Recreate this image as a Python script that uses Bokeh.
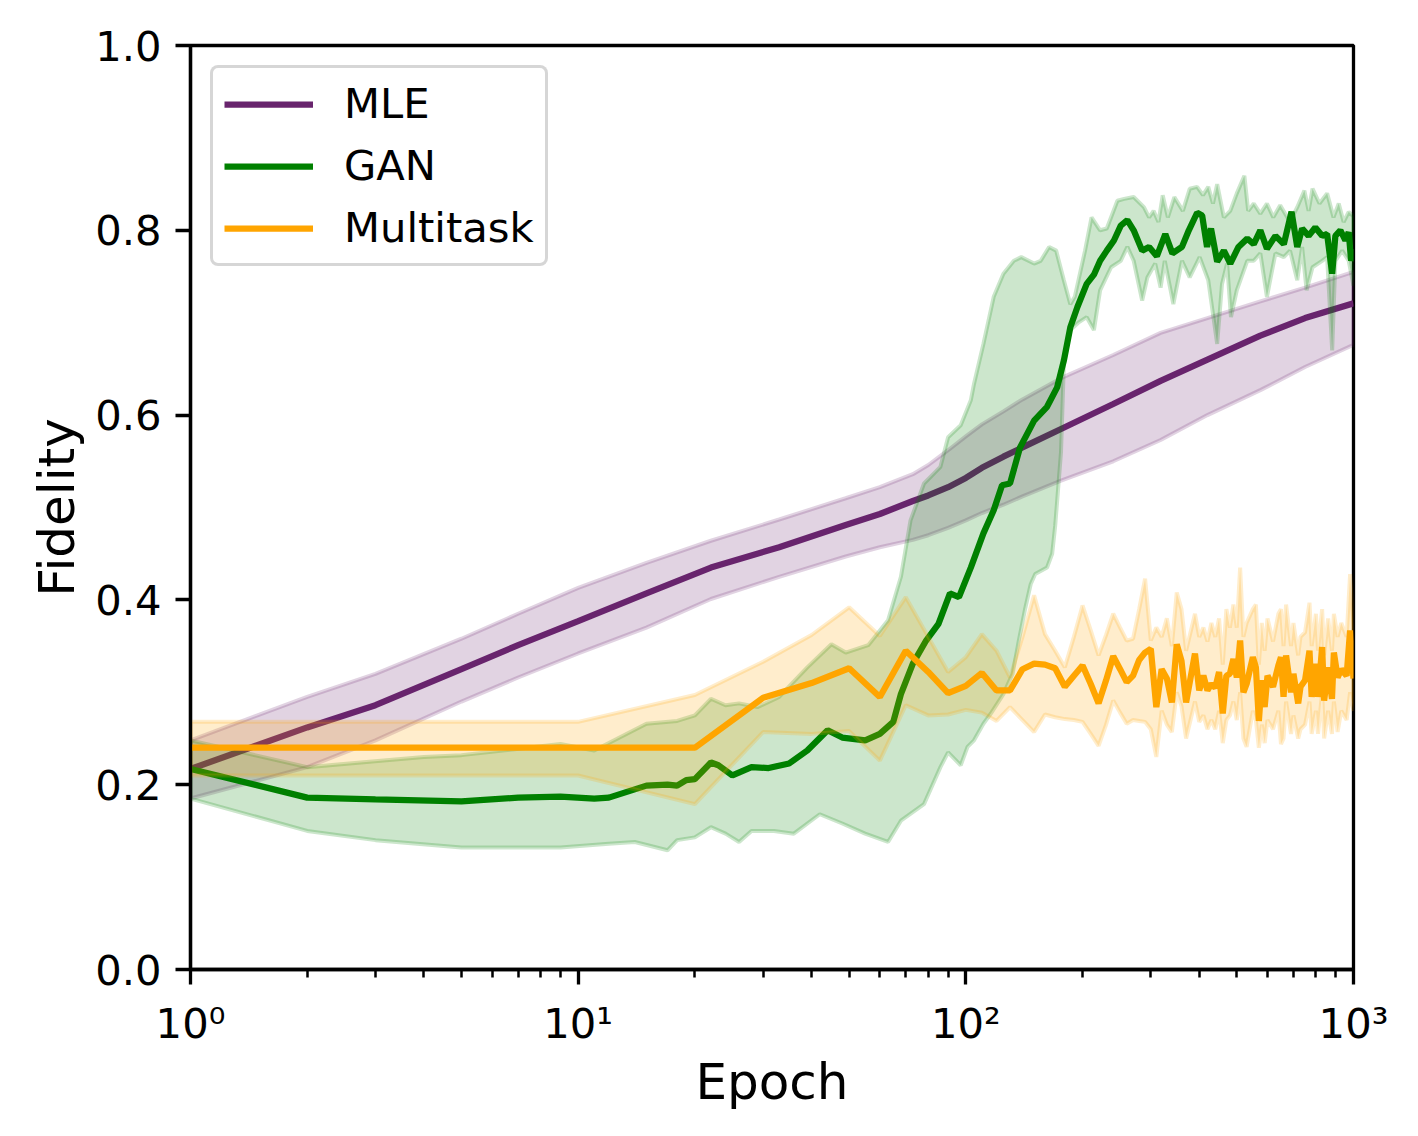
from bokeh.plotting import figure
from bokeh.models import Range1d, FixedTicker, NumeralTickFormatter, Legend, LegendItem
from bokeh.embed import file_html
from bokeh.resources import INLINE

# ---------------- data ----------------
mle_ep = [1, 2, 3, 5, 7, 10, 15, 22, 33, 49, 60, 73, 80, 90, 100, 110, 125, 140, 176, 240, 318, 420,
          575, 750, 1000]
mle = [0.217, 0.262, 0.286, 0.325, 0.351, 0.377, 0.407, 0.435, 0.457, 0.481, 0.493, 0.507, 0.513,
       0.522, 0.532, 0.543, 0.555, 0.565, 0.585, 0.612, 0.637, 0.660, 0.686, 0.705, 0.721]
mle_hi = [0.248, 0.295, 0.320, 0.358, 0.385, 0.413, 0.440, 0.464, 0.487, 0.510, 0.522, 0.536, 0.546,
          0.562, 0.577, 0.590, 0.604, 0.617, 0.640, 0.665, 0.689, 0.705, 0.723, 0.738, 0.755]
mle_lo = [0.185, 0.219, 0.248, 0.290, 0.316, 0.342, 0.370, 0.401, 0.425, 0.447, 0.457, 0.465, 0.470,
          0.478, 0.486, 0.494, 0.503, 0.512, 0.529, 0.550, 0.573, 0.600, 0.627, 0.652, 0.676]

gan_ep = [1, 2, 3, 5, 7, 9, 11, 12, 15, 17, 18, 19, 20, 22, 23, 25, 28, 31, 35, 39, 44, 48, 55, 60, 65,
          68, 73, 79, 85, 91, 96, 103, 111, 118, 124, 130, 138, 150, 162, 172, 179, 186, 194, 205, 214,
          222, 231, 241, 251, 261, 271, 285, 297, 311, 327, 341, 361, 376, 395, 407, 419, 429, 445, 463,
          481, 505, 532, 553, 575, 598, 629, 661, 692, 716, 737, 766, 797, 830, 855, 881, 898, 925, 953,
          972, 986, 1000]
gan = [0.217, 0.186, 0.184, 0.182, 0.186, 0.187, 0.185, 0.186, 0.199, 0.200,
       0.199, 0.205, 0.206, 0.224, 0.221, 0.210, 0.219, 0.218, 0.223, 0.237,
       0.259, 0.251, 0.248, 0.255, 0.268, 0.298, 0.331, 0.356, 0.374, 0.407,
       0.403, 0.435, 0.472, 0.497, 0.524, 0.526, 0.565, 0.594, 0.609, 0.630,
       0.659, 0.695, 0.717, 0.742, 0.752, 0.767, 0.778, 0.789, 0.805, 0.811,
       0.800, 0.778, 0.782, 0.772, 0.796, 0.775, 0.782, 0.800, 0.819, 0.816,
       0.782, 0.802, 0.766, 0.778, 0.764, 0.782, 0.791, 0.785, 0.800, 0.780,
       0.794, 0.785, 0.820, 0.782, 0.802, 0.794, 0.803, 0.794, 0.796, 0.753,
       0.794, 0.800, 0.789, 0.798, 0.767, 0.780]

gan_hi_ep = [1, 2, 4, 5, 9, 11, 15, 18, 20, 22, 24, 26, 29, 33, 39, 45, 49, 56, 63, 68, 72, 78, 86, 90,
             97, 103, 105, 111, 118, 125, 133, 139, 150, 156, 164, 171, 179, 186, 191, 203, 211, 222,
             231, 246, 256, 271, 288, 297, 305, 314, 322, 332, 345, 363, 378, 395, 409, 422, 434, 445,
             463, 481, 500, 523, 535, 553, 575, 598, 621, 647, 686, 716, 747, 766, 784, 817, 855, 888,
             916, 943, 972, 1000]
gan_hi = [0.248, 0.219, 0.230, 0.232, 0.244, 0.237, 0.266, 0.269, 0.275, 0.293,
          0.286, 0.288, 0.284, 0.295, 0.327, 0.352, 0.343, 0.351, 0.378, 0.425,
          0.486, 0.526, 0.544, 0.576, 0.589, 0.616, 0.634, 0.677, 0.728, 0.753,
          0.767, 0.771, 0.764, 0.767, 0.782, 0.778, 0.746, 0.720, 0.728, 0.778,
          0.814, 0.800, 0.802, 0.832, 0.834, 0.836, 0.825, 0.814, 0.821, 0.809,
          0.838, 0.814, 0.836, 0.821, 0.845, 0.847, 0.838, 0.847, 0.829, 0.850,
          0.814, 0.821, 0.840, 0.859, 0.821, 0.829, 0.818, 0.829, 0.814, 0.827,
          0.809, 0.825, 0.843, 0.821, 0.845, 0.829, 0.840, 0.814, 0.829, 0.809,
          0.820, 0.815]

gan_lo_ep = [1, 2, 3, 5, 9, 12, 14, 17, 18, 20, 22, 24, 26, 28, 32, 36, 42, 48, 55, 63, 68, 78, 86, 90,
             97, 101, 105, 111, 116, 125, 132, 137, 142, 147, 151, 162, 167, 170, 173, 176, 179, 186,
             195, 205, 214, 222, 237, 251, 261, 271, 285, 294, 308, 318, 326, 343, 361, 378, 401, 422,
             445, 458, 472, 483, 500, 532, 553, 575, 598, 629, 661, 686, 716, 737, 757, 784, 830, 855,
             881, 898, 935, 972, 1000]
gan_lo = [0.185, 0.150, 0.140, 0.132, 0.132, 0.136, 0.138, 0.129, 0.140, 0.143,
          0.154, 0.147, 0.138, 0.150, 0.150, 0.147, 0.168, 0.158, 0.147, 0.138,
          0.161, 0.179, 0.219, 0.235, 0.221, 0.241, 0.248, 0.266, 0.277, 0.298,
          0.320, 0.356, 0.389, 0.417, 0.428, 0.435, 0.450, 0.480, 0.520, 0.560,
          0.655, 0.692, 0.700, 0.706, 0.692, 0.735, 0.760, 0.767, 0.782, 0.767,
          0.724, 0.749, 0.764, 0.738, 0.767, 0.720, 0.767, 0.749, 0.771, 0.746,
          0.677, 0.742, 0.764, 0.706, 0.735, 0.767, 0.767, 0.775, 0.728, 0.775,
          0.771, 0.778, 0.746, 0.782, 0.735, 0.760, 0.767, 0.771, 0.670, 0.767,
          0.778, 0.767, 0.740]

mt_ep = [1, 10, 20, 30, 40, 50, 60, 70, 80, 90, 100, 110, 120, 130, 140, 150, 160, 170, 180, 190, 200,
         210, 220, 230, 240, 250, 260, 270, 280, 290, 300, 310, 320, 330, 340, 350, 360, 370, 390, 400,
         410, 420, 430, 440, 450, 460, 470, 480, 490, 500, 510, 520, 530, 550, 560, 570, 580, 590, 600,
         620, 640, 650, 660, 670, 690, 700, 720, 730, 750, 770, 780, 800, 810, 830, 840, 860, 880, 890,
         910, 930, 960, 980, 1000]
mt = [0.240, 0.240, 0.240, 0.294, 0.310, 0.326, 0.295, 0.345, 0.322, 0.299,
      0.307, 0.321, 0.302, 0.302, 0.325, 0.331, 0.330, 0.326, 0.306, 0.318,
      0.329, 0.309, 0.288, 0.313, 0.339, 0.325, 0.311, 0.318, 0.335, 0.343,
      0.347, 0.284, 0.325, 0.315, 0.289, 0.352, 0.334, 0.289, 0.342, 0.302,
      0.318, 0.302, 0.309, 0.305, 0.322, 0.277, 0.318, 0.320, 0.336, 0.316,
      0.356, 0.300, 0.309, 0.338, 0.327, 0.269, 0.313, 0.284, 0.318, 0.306,
      0.329, 0.338, 0.295, 0.340, 0.300, 0.320, 0.288, 0.306, 0.313, 0.345,
      0.295, 0.331, 0.295, 0.349, 0.291, 0.327, 0.293, 0.343, 0.316, 0.325,
      0.318, 0.367, 0.315]
mt_hi = [0.268, 0.268, 0.297, 0.333, 0.362, 0.392, 0.361, 0.403, 0.360, 0.322,
         0.338, 0.363, 0.345, 0.316, 0.360, 0.405, 0.363, 0.345, 0.327, 0.360,
         0.394, 0.367, 0.340, 0.362, 0.385, 0.370, 0.356, 0.358, 0.390, 0.423,
         0.356, 0.370, 0.360, 0.380, 0.350, 0.408, 0.390, 0.345, 0.385, 0.360,
         0.370, 0.355, 0.375, 0.360, 0.380, 0.330, 0.390, 0.370, 0.395, 0.370,
         0.435, 0.360, 0.375, 0.390, 0.395, 0.330, 0.375, 0.345, 0.380, 0.355,
         0.385, 0.390, 0.350, 0.395, 0.350, 0.375, 0.340, 0.360, 0.365, 0.397,
         0.350, 0.385, 0.345, 0.390, 0.340, 0.380, 0.345, 0.385, 0.360, 0.375,
         0.360, 0.428, 0.370]
mt_lo = [0.210, 0.210, 0.179, 0.257, 0.255, 0.258, 0.226, 0.286, 0.275, 0.276,
         0.281, 0.278, 0.269, 0.284, 0.270, 0.257, 0.276, 0.273, 0.271, 0.270,
         0.268, 0.255, 0.242, 0.265, 0.291, 0.278, 0.266, 0.270, 0.269, 0.268,
         0.260, 0.230, 0.280, 0.265, 0.257, 0.300, 0.285, 0.250, 0.290, 0.268,
         0.275, 0.260, 0.270, 0.260, 0.280, 0.245, 0.270, 0.275, 0.290, 0.270,
         0.300, 0.250, 0.241, 0.280, 0.270, 0.240, 0.265, 0.245, 0.270, 0.260,
         0.280, 0.244, 0.250, 0.290, 0.255, 0.275, 0.250, 0.260, 0.265, 0.290,
         0.255, 0.280, 0.255, 0.300, 0.250, 0.280, 0.255, 0.290, 0.257, 0.280,
         0.270, 0.300, 0.280]

x_major = [1, 10, 100, 1000]
x_major_labels = ["10\u2070", "10\u00b9", "10\u00b2", "10\u00b3"]
x_minor = [2, 3, 4, 5, 6, 7, 8, 9, 20, 30, 40, 50, 60, 70, 80, 90, 200, 300, 400, 500, 600, 700, 800, 900]
y_major = [0.0, 0.2, 0.4, 0.6, 0.8, 1.0]

C_MLE = "#68246D"
C_GAN = "#008000"
C_MT = "#FFA500"
FONT = "DejaVu Sans"

# ---------------- figure ----------------
p = figure(x_axis_type="log", x_range=Range1d(1, 1000), y_range=Range1d(0, 1),
           frame_width=1163, frame_height=924,
           min_border_left=190, min_border_right=50, min_border_top=45, min_border_bottom=150,
           output_backend="svg", toolbar_location=None, background_fill_color="white",
           border_fill_color="white")
p.xgrid.visible = False
p.ygrid.visible = False
p.outline_line_color = "black"
p.outline_line_width = 3.3


def band(xs_hi, ys_hi, xs_lo, ys_lo, color):
    xs = list(xs_hi) + list(reversed(xs_lo))
    ys = list(ys_hi) + list(reversed(ys_lo))
    p.patch(xs, ys, fill_color=color, fill_alpha=0.2, line_color=color, line_alpha=0.2, line_width=4)


band(mle_ep, mle_hi, mle_ep, mle_lo, C_MLE)
r_mle = p.line(mle_ep, mle, line_color=C_MLE, line_width=6.25)
band(gan_hi_ep, gan_hi, gan_lo_ep, gan_lo, C_GAN)
r_gan = p.line(gan_ep, gan, line_color=C_GAN, line_width=6.25)
band(mt_ep, mt_hi, mt_ep, mt_lo, C_MT)
r_mt = p.line(mt_ep, mt, line_color=C_MT, line_width=6.25)

# ---------------- axes ----------------
xa = p.xaxis[0]
xa.ticker = FixedTicker(ticks=x_major, minor_ticks=x_minor)
xa.major_label_overrides = {t: lab for t, lab in zip(x_major, x_major_labels)}
ya = p.yaxis[0]
ya.ticker = FixedTicker(ticks=y_major, minor_ticks=[])
ya.formatter = NumeralTickFormatter(format="0.0")

for ax in (xa, ya):
    ax.axis_line_width = 3.3
    ax.axis_line_color = "black"
    ax.major_tick_line_width = 3.3
    ax.major_tick_in = 0
    ax.major_tick_out = 15
    ax.minor_tick_line_width = 2.5
    ax.minor_tick_in = 0
    ax.minor_tick_out = 8
    ax.major_label_text_font = FONT
    ax.major_label_text_font_size = "41.7px"
    ax.major_label_text_color = "black"
    ax.major_label_standoff = 14
    ax.axis_label_text_font = FONT
    ax.axis_label_text_font_size = "50px"
    ax.axis_label_text_font_style = "normal"
    ax.axis_label_text_color = "black"

xa.axis_label = "Epoch"
xa.axis_label_standoff = 2
ya.axis_label = "Fidelity"
ya.axis_label_standoff = 6

# ---------------- legend ----------------
legend = Legend(items=[LegendItem(label="MLE", renderers=[r_mle]),
                       LegendItem(label="GAN", renderers=[r_gan]),
                       LegendItem(label="Multitask", renderers=[r_mt])],
                location="top_left", margin=20, padding=11, spacing=13,
                glyph_width=89, glyph_height=40, label_standoff=31,
                label_text_font=FONT, label_text_font_size="41.7px", label_text_color="black",
                border_line_color="#cccccc", border_line_width=3.3, border_line_alpha=0.8,
                background_fill_color="white", background_fill_alpha=0.8)
if "border_radius" in Legend.properties():
    legend.border_radius = 8
p.add_layout(legend)

open("out.html", "w").write(file_html(p, INLINE))
